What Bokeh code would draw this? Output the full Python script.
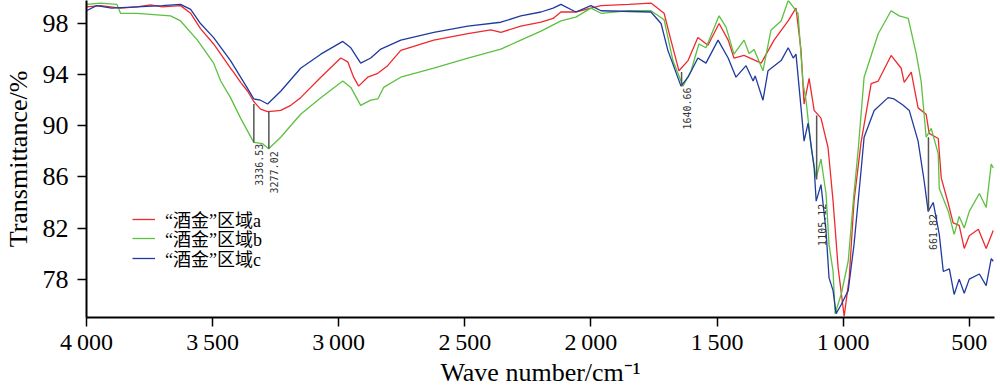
import math
from bokeh.plotting import figure
from bokeh.models import (Range1d, CustomJSTickFormatter, FixedTicker, Legend,
                          LegendItem, ColumnDataSource)
from bokeh.core.properties import value
from bokeh.embed import file_html
from bokeh.resources import INLINE

wn_a = [4000, 3944, 3865, 3800, 3746, 3700, 3627, 3587, 3548, 3496, 3429, 3417, 3389,
        3361, 3337, 3310, 3282, 3258, 3230, 3190, 3151, 3071, 2992, 2964, 2941, 2921,
        2885, 2845, 2806, 2754, 2623, 2488, 2397, 2357, 2278, 2198, 2150, 2119, 2060,
        2000, 1960, 1850, 1762, 1710, 1683, 1651, 1615, 1576, 1536, 1492, 1456, 1433,
        1393, 1325, 1274, 1218, 1187, 1167, 1155, 1135, 1115, 1088, 1060, 1040, 1020,
        996, 976, 957, 929, 889, 861, 810, 770, 758, 730, 703, 671, 659, 623, 611, 583,
        564, 540, 520, 500, 464, 433, 405]
t_a = [99.3, 99.4, 99.2, 99.3, 99.45, 99.3, 99.4, 98.8, 97.6, 96.4, 94.5, 94.2, 93.4,
       92.7, 91.9, 91.3, 91.1, 91.15, 91.2, 91.6, 92.2, 93.8, 95.3, 95.0, 93.8, 93.1,
       93.8, 94.1, 94.7, 95.9, 96.7, 97.2, 97.5, 97.3, 97.8, 98.1, 98.4, 98.9, 98.9,
       99.2, 99.4, 99.5, 99.6, 98.8, 96.7, 94.3, 95.1, 96.9, 96.3, 98.0, 96.7, 95.3,
       95.5, 94.9, 96.7, 98.2, 99.2, 95.9, 91.7, 93.7, 91.2, 90.6, 88.3, 84.1, 78.9,
       75.1, 78.1, 84.1, 88.7, 93.3, 93.5, 95.5, 94.5, 93.4, 94.2, 91.4, 90.9, 89.4,
       89.0, 85.9, 83.9, 82.4, 82.2, 80.4, 81.4, 81.9, 80.4, 81.8]

wn_b = [4000, 3944, 3880, 3865, 3800, 3667, 3627, 3560, 3496, 3468, 3429, 3389, 3337,
        3302, 3278, 3230, 3151, 3071, 2984, 2952, 2913, 2873, 2845, 2822, 2754, 2623,
        2488, 2357, 2278, 2198, 2119, 2060, 2000, 1960, 1850, 1762, 1710, 1675, 1635,
        1603, 1572, 1544, 1492, 1464, 1433, 1393, 1373, 1353, 1318, 1286, 1246, 1218,
        1198, 1179, 1159, 1147, 1127, 1107, 1088, 1068, 1056, 1040, 1032, 1008, 980,
        960, 941, 917, 861, 810, 778, 742, 710, 691, 671, 651, 623, 619, 583, 560, 540,
        520, 500, 460, 433, 413, 405]
t_b = [99.5, 99.6, 99.5, 98.8, 98.8, 98.6, 98.2, 96.7, 94.9, 93.5, 92.2, 90.6, 88.7,
       88.6, 88.2, 89.1, 90.9, 92.2, 93.5, 93.0, 91.6, 92.0, 92.1, 93.0, 93.8, 94.5,
       95.3, 96.0, 96.7, 97.4, 98.2, 98.5, 99.2, 98.8, 99.0, 99.0, 98.3, 95.1, 93.1,
       94.3, 96.4, 96.1, 98.6, 97.7, 95.6, 96.7, 95.65, 95.96, 94.3, 97.5, 98.2, 99.8,
       99.3, 98.8, 93.3, 91.96, 88.3, 85.9, 87.4, 84.7, 80.7, 78.6, 75.3, 76.8, 79.4,
       84.1, 88.0, 93.8, 97.2, 99.0, 98.6, 98.4, 95.6, 93.5, 89.1, 89.8, 87.8, 85.1,
       83.3, 81.5, 82.9, 82.0, 83.3, 84.7, 83.6, 87.0, 86.7]

wn_c = [4000, 3960, 3900, 3800, 3700, 3627, 3587, 3548, 3496, 3429, 3361, 3337, 3310,
        3282, 3230, 3151, 3071, 2984, 2952, 2913, 2873, 2833, 2754, 2623, 2488, 2357,
        2278, 2198, 2150, 2119, 2060, 2000, 1960, 1762, 1722, 1695, 1643, 1615, 1576,
        1544, 1496, 1456, 1425, 1385, 1357, 1349, 1318, 1298, 1246, 1218, 1198, 1187,
        1167, 1155, 1139, 1115, 1107, 1088, 1068, 1056, 1040, 1028, 1008, 980, 957, 929,
        917, 877, 822, 798, 762, 738, 703, 679, 663, 643, 619, 603, 579, 560, 540, 520,
        500, 460, 433, 413, 405]
t_c = [99.0, 99.4, 99.2, 99.3, 99.4, 99.5, 99.1, 98.0, 96.9, 95.1, 92.9, 92.1, 92.0,
       91.7, 92.7, 94.5, 95.6, 96.6, 96.1, 94.9, 95.3, 96.0, 96.7, 97.3, 97.8, 98.1,
       98.6, 98.9, 99.2, 99.5, 98.9, 99.4, 99.0, 98.9, 98.0, 95.9, 93.1, 93.8, 95.3,
       94.9, 96.7, 95.3, 93.8, 94.7, 93.5, 93.9, 92.0, 94.3, 95.1, 96.1, 95.3, 95.6,
       91.4, 88.8, 90.2, 86.7, 84.1, 85.4, 81.8, 78.1, 77.1, 75.3, 76.0, 77.1, 80.7,
       86.5, 89.1, 91.2, 92.2, 92.1, 91.6, 91.2, 88.8, 85.7, 83.3, 84.0, 81.5, 78.6,
       78.8, 76.8, 78.0, 76.9, 78.0, 78.4, 77.5, 79.6, 79.4]

series_labels = ["“酒金”区域a", "“酒金”区域b", "“酒金”区域c"]
series_colors = ["#ee2a2e", "#5cc040", "#1f3b9e"]

peak_wn = [3336.53, 3277.02, 1640.66, 1105.12, 661.82]
peak_text = ["3336.53", "3277.02", "1640.66", "1105.12", "661.82"]
peak_line_top = [91.7, 91.1, 94.2, 90.8, 89.1]
peak_line_bottom = [88.7, 88.2, 93.1, 85.8, 83.3]
peak_label_y = [88.6, 88.0, 93.0, 83.9, 83.1]

x_ticks = [4000, 3500, 3000, 2500, 2000, 1500, 1000, 500]
y_ticks = [78, 82, 86, 90, 94, 98]

SERIF = "Liberation Serif, Noto Sans CJK SC"

p = figure(width=996, height=389, x_range=Range1d(4000, 400), y_range=Range1d(75, 99.8),
           output_backend="svg", toolbar_location=None,
           min_border_left=84, min_border_right=2, min_border_top=0, min_border_bottom=66)
p.outline_line_color = None
p.grid.visible = False

renderers = []
for wn, t, col in zip([wn_a, wn_b, wn_c], [t_a, t_b, t_c], series_colors):
    renderers.append(p.line(wn, t, line_color=col, line_width=1.3))

ann = ColumnDataSource(dict(x=peak_wn, y0=peak_line_top, y1=peak_line_bottom,
                            ly=peak_label_y, txt=peak_text))
p.segment(x0="x", y0="y0", x1="x", y1="y1", source=ann, line_color="#555555", line_width=1.5)
p.text(x="x", y="ly", text="txt", source=ann, angle=math.pi / 2, text_align="right",
       text_baseline="top", x_offset=1, text_font=value("DejaVu Sans Mono"),
       text_font_size="10px", text_color="#333333")

for ax in (p.xaxis[0], p.yaxis[0]):
    ax.axis_line_width = 2
    ax.axis_line_color = "black"
    ax.major_tick_line_width = 1.5
    ax.major_tick_out = 9
    ax.major_tick_in = 0
    ax.minor_tick_out = 0
    ax.minor_tick_in = 0
    ax.major_label_text_font = "Liberation Serif"
    ax.major_label_text_color = "black"
    ax.axis_label_text_font = "Liberation Serif"
    ax.axis_label_text_font_style = "normal"
    ax.axis_label_text_font_size = "26px"
    ax.axis_label_text_color = "black"

p.xaxis.ticker = FixedTicker(ticks=x_ticks)
p.yaxis.ticker = FixedTicker(ticks=y_ticks)
p.xaxis.formatter = CustomJSTickFormatter(code="""
    const s = Math.round(tick).toString();
    return s.length > 3 ? s.slice(0, -3) + '\\u2009' + s.slice(-3) : s;
""")
p.xaxis.major_label_text_font_size = "24px"
p.yaxis.major_label_text_font_size = "26px"
p.xaxis.major_label_standoff = 2
p.yaxis.major_label_standoff = 9
p.xaxis.axis_label = "Wave number/cm⁻¹"
p.yaxis.axis_label = "Transmittance/%"
p.xaxis.axis_label_standoff = 0
p.yaxis.axis_label_standoff = 7

# one single-row legend per series so the row pitch matches the reference
legend_rows_y = [85, 66, 46]
for lab, r, ly in zip(series_labels, renderers, legend_rows_y):
    lg = Legend(items=[LegendItem(label=lab, renderers=[r])],
                location=(46, ly), orientation="vertical",
                glyph_width=23, glyph_height=20, label_height=20, spacing=0,
                padding=0, margin=0, label_standoff=10,
                label_text_font=SERIF, label_text_font_size="18px",
                label_text_color="black", background_fill_alpha=0,
                border_line_color=None)
    p.add_layout(lg)

open("out.html", "w").write(file_html(p, INLINE))
